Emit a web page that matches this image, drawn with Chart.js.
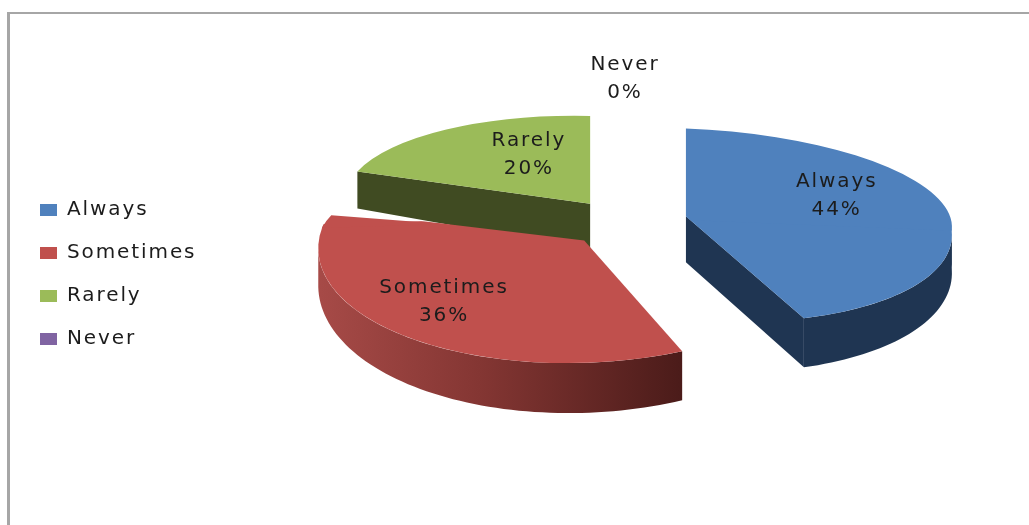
<!DOCTYPE html>
<html lang="en">
<head>
    <meta charset="UTF-8">
    <title>Always / Sometimes / Rarely / Never</title>
    <script src="https://cdn.jsdelivr.net/npm/chart.js"></script>
    <style>
        html, body { margin: 0; background: #fff; overflow: hidden; }
        #frame { position: absolute; left: 7px; top: 12px; width: 1100px; height: 600px; border-left: 3px solid #a6a6a6; border-top: 2px solid #a6a6a6; }
        #wrap { position: absolute; left: 0; top: 0; width: 1029px; height: 525px; }
    </style>
</head>
<body>
    <div id="frame"></div>
    <div id="wrap"><canvas id="pie"></canvas></div>
    <script>
        const categories = ['Always', 'Sometimes', 'Rarely', 'Never'];
        const shares = [44, 36, 20, 0];
        const topColors = ['#4f81bd', '#c0504d', '#9bbb59', '#8064a2'];
        const sideColors = ['#1f3552', '#5a2220', '#404b22', '#40325a'];

        const fontFamily = '"DejaVu Sans", sans-serif';
        const textSpacing = '1.9px';

        // tilted pie: flat arcs from the controller get squashed per half of the disc,
        // with a small per-slice correction to fake the perspective
        const pieCenter = { x: 626, y: 220 };
        const backSquash = 0.33;
        const frontSquash = [0.40, 0.46, 0.45, 0.45];
        const sliceTilt = [0.04, -0.03, 0.02, 0];
        const sliceSkew = [0.085, 0, 0, 0];
        const sliceWidth = [1, 1, 0.92, 1];
        const explode = 61;
        const labelShift = [[-6, -17], [-31, 5], [25, -4], [-1, -68]];

        function sliceFrame(arc, i) {
            const mid = (arc.startAngle + arc.endAngle) / 2;
            return {
                arc,
                tilt: sliceTilt[i],
                skew: sliceSkew[i],
                width: sliceWidth[i],
                front: frontSquash[i],
                ex: Math.cos(mid) * explode,
                ey: Math.sin(mid) * explode
            };
        }

        // plane point (u, v from the arc centre) to canvas point
        function project(f, u, v) {
            const d = v + f.ey;
            const k = d < 0 ? backSquash : f.front;
            const s = d < 0 ? 0 : f.skew;
            return {
                x: pieCenter.x + f.ex + f.width * u + s * d,
                y: pieCenter.y + k * d + f.tilt * u
            };
        }

        function applyHalf(ctx, f, k, s) {
            const a = f.arc;
            ctx.transform(f.width, f.tilt, s, k,
                pieCenter.x + f.ex - f.width * a.x + s * (f.ey - a.y),
                pieCenter.y + k * (f.ey - a.y) - f.tilt * a.x);
        }

        function drawTop(ctx, f) {
            const a = f.arc;
            const big = 2000;
            const overlap = 8;
            // front half first, back half laps over the seam
            ctx.save();
            applyHalf(ctx, f, f.front, f.skew);
            ctx.beginPath();
            ctx.rect(a.x - big, a.y - f.ey - overlap, big * 2, big);
            ctx.clip();
            a.draw(ctx);
            ctx.restore();

            ctx.save();
            applyHalf(ctx, f, backSquash, 0);
            ctx.beginPath();
            ctx.rect(a.x - big, a.y - f.ey - big, big * 2, big);
            ctx.clip();
            a.draw(ctx);
            ctx.restore();
        }

        function sideFill(ctx, i) {
            if (i !== 1) return sideColors[i];
            const g = ctx.createLinearGradient(312, 0, 685, 0);
            g.addColorStop(0, '#a84b48');
            g.addColorStop(0.45, '#843633');
            g.addColorStop(1, '#4a1b19');
            return g;
        }

        function rimDepth(t) {
            return 37 + 13 * Math.max(0, Math.sin(t));
        }

        function drawSide(ctx, f, i) {
            const a = f.arc;
            if (a.endAngle - a.startAngle <= 0) return;
            const R = a.outerRadius;
            const at = t => ({ p: project(f, R * Math.cos(t), R * Math.sin(t)), d: rimDepth(t) });
            const apex = project(f, 0, 0);
            const apexDepth = 46;
            ctx.save();
            ctx.fillStyle = sideFill(ctx, i);

            // outer wall, only where the rim faces the viewer
            const rim = [];
            const steps = Math.ceil((a.endAngle - a.startAngle) / 0.03);
            for (let s = 0; s <= steps; s++) {
                const t = a.startAngle + (a.endAngle - a.startAngle) * s / steps;
                if (Math.sin(t) >= 0) rim.push(at(t));
            }
            if (rim.length > 1) {
                ctx.beginPath();
                rim.forEach(r => ctx.lineTo(r.p.x, r.p.y));
                rim.slice().reverse().forEach(r => ctx.lineTo(r.p.x, r.p.y + r.d));
                ctx.closePath();
                ctx.fill();
            }

            // cut faces that look towards the viewer
            const faces = [];
            if (Math.cos(a.startAngle) < -0.01) faces.push(a.startAngle);
            if (Math.cos(a.endAngle) > 0.01) faces.push(a.endAngle);
            faces.forEach(t => {
                const r = at(t);
                ctx.beginPath();
                ctx.moveTo(apex.x, apex.y);
                ctx.lineTo(r.p.x, r.p.y);
                ctx.lineTo(r.p.x, r.p.y + r.d);
                ctx.lineTo(apex.x, apex.y + apexDepth);
                ctx.closePath();
                ctx.fill();
            });
            ctx.restore();
        }

        const tiltedPie = {
            id: 'tiltedPie',
            beforeLayout(chart) { chart.ctx.letterSpacing = textSpacing; },
            beforeDraw(chart) { chart.ctx.letterSpacing = textSpacing; },
            beforeDatasetDraw(chart) {
                const ctx = chart.ctx;
                const frames = chart.getDatasetMeta(0).data.map(sliceFrame);
                // back to front, so the red top hides the foot of the green wall
                [2, 1, 0].forEach(i => drawSide(ctx, frames[i], i));
                [2, 1, 0].forEach(i => drawTop(ctx, frames[i]));
                return false;
            },
            afterDatasetsDraw(chart) {
                const ctx = chart.ctx;
                const frames = chart.getDatasetMeta(0).data.map(sliceFrame);
                ctx.save();
                ctx.letterSpacing = textSpacing;
                ctx.font = '20px ' + fontFamily;
                ctx.fillStyle = '#1c1c1c';
                ctx.textAlign = 'center';
                ctx.textBaseline = 'middle';
                frames.forEach((f, i) => {
                    const mid = (f.arc.startAngle + f.arc.endAngle) / 2;
                    const r = f.arc.outerRadius * 0.6;
                    const p = project(f, r * Math.cos(mid), r * Math.sin(mid));
                    const x = p.x + labelShift[i][0];
                    const y = p.y + labelShift[i][1];
                    ctx.fillText(categories[i], x, y - 14);
                    ctx.fillText(shares[i] + '%', x, y + 14);
                });
                ctx.restore();
            }
        };

        new Chart(document.getElementById('pie'), {
            type: 'pie',
            data: {
                labels: categories,
                datasets: [{
                    data: shares,
                    backgroundColor: topColors,
                    borderWidth: 0
                }]
            },
            options: {
                responsive: true,
                maintainAspectRatio: false,
                animation: false,
                radius: 266,
                layout: { padding: { left: 17, top: 24 } },
                plugins: {
                    tooltip: { enabled: false },
                    legend: {
                        position: 'left',
                        labels: {
                            boxWidth: 17,
                            boxHeight: 12,
                            padding: 23,
                            color: '#1c1c1c',
                            font: { size: 20, family: fontFamily }
                        }
                    }
                }
            },
            plugins: [tiltedPie]
        });
    </script>
</body>
</html>
